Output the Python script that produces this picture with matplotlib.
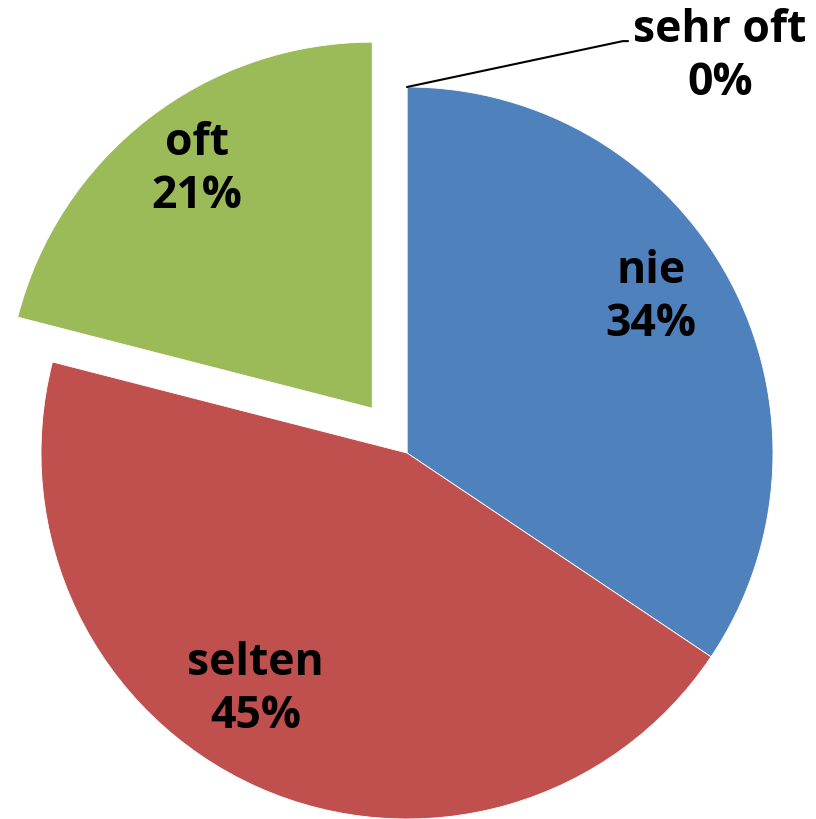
import matplotlib.pyplot as plt
import numpy as np

# Haeufigkeit
kategorien = ['nie', 'selten', 'oft', 'sehr oft']
werte = [34.4, 44.6, 21.0, 0.0]
farben = ['#4F81BD', '#C0504D', '#9BBB59', '#8064A2']
explode = [0, 0, 0.155, 0]

W, H = 816, 820
cx, cy, r = 407, 454, 366

fig = plt.figure(figsize=(W / 100, H / 100), dpi=100)
ax = fig.add_axes([0, 0, 1, 1])

wedges, texts = ax.pie(werte, colors=farben, explode=explode, startangle=90,
                       counterclock=False, radius=1,
                       wedgeprops=dict(edgecolor='white', linewidth=0.6))

ax.set_xlim(-cx / r, (W - cx) / r)
ax.set_ylim(-(H - cy) / r, cy / r)
ax.set_aspect('auto')
ax.axis('off')

schrift = dict(fontsize=32, fontweight='bold', family=['Open Sans', 'DejaVu Sans'],
               ha='center', va='center', linespacing=1.25)

# Label-Positionen (in Radius-Einheiten)
pos = {'nie': (0.667, 0.426), 'selten': (-0.413, -0.645), 'oft': (-0.574, 0.776)}
for name, w in zip(kategorien, werte):
    txt = f"{name}\n{int(round(w))}%"
    if name in pos:
        ax.text(*pos[name], txt, **schrift)
    else:
        ax.annotate(txt, xy=(0, 1), xytext=(0.855, 1.085), textcoords='data',
                    arrowprops=dict(arrowstyle='-', color='black', lw=1.5,
                                    connectionstyle='angle,angleA=0,angleB=12,rad=0',
                                    shrinkA=0, shrinkB=0, relpos=(-0.03, 0.65)),
                    **schrift)

fig.savefig('out.png', dpi=100)
